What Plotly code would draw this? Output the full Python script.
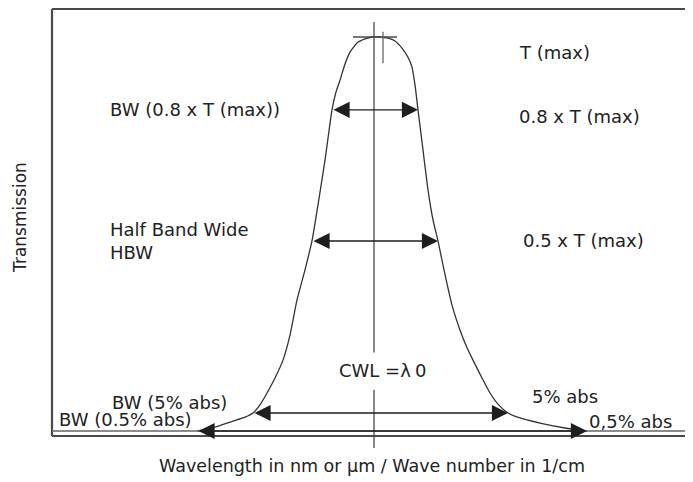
import plotly.graph_objects as go

# ---- data (relative wavelength, transmission / T(max)) ----
wavelength = [-17.7, -15.9, -14.1, -12.9, -12.1, -11.4, -10.7, -9.9, -9.1, -8.4, -7.7, -6.9,
              -6.2, -5.6, -4.9, -4.2, -3.8, -3.4, -2.9, -2.4, -1.7, -0.9, -0.2, 0.6,
              1.4, 2.1, 2.8, 3.4, 3.8, 4.1, 4.4, 4.9, 5.4, 5.9, 6.4, 7.0, 7.8, 8.6,
              9.3, 9.9, 10.8, 11.6, 12.4, 13.4, 14.6, 16.6, 19.1, 21.3]
transmission = [0.005, 0.015, 0.030, 0.040, 0.0505, 0.071, 0.101, 0.139, 0.184, 0.247, 0.336, 0.412,
                0.485, 0.576, 0.689, 0.816, 0.861, 0.891, 0.932, 0.962, 0.985, 0.995, 1.0, 1.0,
                0.997, 0.990, 0.972, 0.949, 0.924, 0.879, 0.816, 0.715, 0.614, 0.538, 0.485, 0.412, 0.323, 0.260,
                0.215, 0.184, 0.139, 0.101, 0.073, 0.0505, 0.038, 0.025, 0.0126, 0.005]

bw_levels = [0.816, 0.485, 0.0505, 0.005]
bw_left = [-4.2, -6.2, -12.1, -17.7]
bw_right = [4.4, 6.4, 13.4, 21.3]

t_max = 1.0
cwl = 0.0

# page body has an 8px margin; the figure is sized to fit the window from there
XR = [-36.6, 31.9]
YR = [-0.12374, 1.07323]
FRAME_L, FRAME_T, FRAME_B = -32.2, 1.0707, -0.0076

INK = "#222222"
LINE = "#4a4a4a"
FONT = "DejaVu Sans"

fig = go.Figure()
fig.add_trace(go.Scatter(x=wavelength, y=transmission, mode="lines",
                         line=dict(color="#333333", width=1.3, shape="spline", smoothing=0.5),
                         hoverinfo="skip", showlegend=False))

shapes = []
# frame
shapes.append(dict(type="line", x0=FRAME_L, x1=XR[1] + 1, y0=FRAME_T, y1=FRAME_T, line=dict(color=LINE, width=2.2)))
shapes.append(dict(type="line", x0=FRAME_L, x1=FRAME_L, y0=FRAME_B, y1=FRAME_T, line=dict(color=LINE, width=2.2)))
shapes.append(dict(type="line", x0=FRAME_L, x1=XR[1] + 1, y0=FRAME_B, y1=FRAME_B, line=dict(color=LINE, width=2.2)))
shapes.append(dict(type="line", x0=FRAME_L, x1=XR[1] + 1, y0=bw_levels[3], y1=bw_levels[3], line=dict(color="#666666", width=1.6)))
# centre wavelength line (with gap for the label)
shapes.append(dict(type="line", x0=cwl, x1=cwl, y0=0.203, y1=1.038, line=dict(color=LINE, width=1.3)))
shapes.append(dict(type="line", x0=cwl, x1=cwl, y0=-0.038, y1=0.109, line=dict(color=LINE, width=1.3)))
# T(max) marker
shapes.append(dict(type="line", x0=-2.1, x1=2.3, y0=t_max, y1=t_max, line=dict(color=LINE, width=1.3)))
shapes.append(dict(type="line", x0=0.9, x1=0.9, y0=0.934, y1=1.013, line=dict(color="#666666", width=1.3)))

annotations = []
for lv, xl, xr in zip(bw_levels, bw_left, bw_right):
    annotations.append(dict(x=xr, y=lv, ax=xl, ay=lv, xref="x", yref="y", axref="x", ayref="y",
                            text="", showarrow=True, arrowhead=2, startarrowhead=2,
                            arrowside="end+start", arrowsize=2.3, startarrowsize=2.3,
                            arrowwidth=1.4, arrowcolor="#1e1e1e", standoff=0, startstandoff=0))

def label(x, y, text, xanchor="left", size=18, angle=0):
    annotations.append(dict(x=x, y=y, xref="x", yref="y", text=text, showarrow=False,
                            xanchor=xanchor, yanchor="middle", textangle=angle,
                            font=dict(family=FONT, size=size, color=INK)))

label(14.3, 0.962, "T (max)")
label(14.3, 0.800, "0.8 x T (max)")
label(-26.6, 0.816, "BW (0.8 x T (max))")
label(-26.6, 0.515, "Half Band Wide")
label(-26.6, 0.457, "HBW")
label(14.7, 0.487, "0.5 x T (max)")
label(-3.7, 0.154, "CWL =λ<sub> </sub>0")
label(-26.4, 0.078, "BW (5% abs)")
label(-31.7, 0.033, "BW (0.5% abs)")
label(15.6, 0.091, "5% abs")
label(21.3, 0.028, "0,5% abs")
label(-0.2, -0.083, "Wavelength in nm or µm / Wave number in 1/cm", xanchor="center", size=17.5)
label(-35.4, 0.543, "Transmission", xanchor="center", size=17, angle=-90)

fig.update_layout(width=685, height=474, margin=dict(l=0, r=0, t=0, b=0),
                  paper_bgcolor="white", plot_bgcolor="white",
                  xaxis=dict(range=XR, visible=False, fixedrange=True),
                  yaxis=dict(range=YR, visible=False, fixedrange=True),
                  shapes=shapes, annotations=annotations, showlegend=False)

fig.write_html("out.html")
